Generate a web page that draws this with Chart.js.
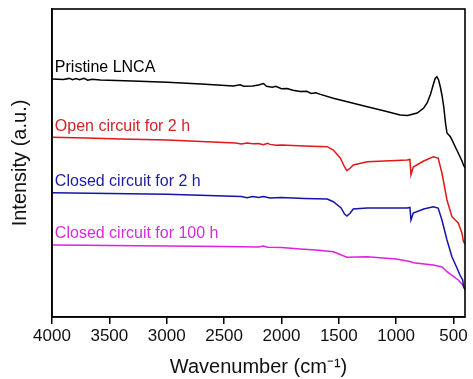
<!DOCTYPE html>
<html>
<head>
<meta charset="utf-8">
<script src="https://cdn.jsdelivr.net/npm/chart.js@4.4.1/dist/chart.umd.min.js"></script>
<style>
html,body{margin:0;padding:0;background:#fff;}
#wrap{width:473px;height:379px;position:relative;}
</style>
</head>
<body>
<div id="wrap"><canvas id="c" width="473" height="379"></canvas></div>
<script>
// Wavenumber tick labels
const xTicks = [4000, 3500, 3000, 2500, 2000, 1500, 1000, 500];

// Series names
const seriesNames = ["Pristine LNCA", "Open circuit for 2 h", "Closed circuit for 2 h", "Closed circuit for 100 h"];

// Pristine LNCA: [wavenumber, intensity (a.u.)]
const pristine = [
  [4000,238],[3900,237.6],[3850,238.6],[3820,237.2],[3790,238.4],[3760,237.2],[3720,238.6],[3690,236.8],[3650,237.8],[3579,237],
  [3300,236],[2995,234.7],[2700,233],[2420,231],[2359,232.2],[2330,230.7],[2250,231],[2200,232],[2157,233.5],
  [2130,230.8],[2080,229.8],[2050,230.8],[2000,228.3],[1950,228.5],[1900,226.7],[1836,225.5],[1780,225.8],
  [1740,223.6],[1700,224.2],[1660,222.6],[1548,218.7],[1400,214.5],[1252,210.3],[1100,206],[965,202],[900,201.5],
  [817,204],[760,209],[730,214],[700,223],[675,233],[660,238.5],[645,240.3],[630,237],[615,230],[601,222],[585,210],[570,194],[557,184],
  [527,180.3],[480,169],[459,164],[430,157],[413,152],[400,149]
];

// Open circuit for 2 h
const openCircuit2h = [
  [4000,179.7],[3900,179.5],[3700,179],[3400,178],[2995,177],[2700,175.5],[2500,174.5],[2400,174],[2350,173],
  [2300,174],[2250,173.2],[2200,173.5],[2157,172.3],[2120,173.8],[2100,172.6],[2050,171.8],[2000,172],
  [1800,171],[1601,170.3],[1548,167],[1487,159],[1450,150],[1429,146.3],[1400,149],[1374,152],[1252,155.3],[1000,156.5],
  [904,157],[880,157.5],[871,142],[851,150],[760,156],[677,160.3],[634,159],[601,144],[557,117],
  [514,100.3],[459,94],[427,84],[413,75.3],[400,73]
];

// Closed circuit for 2 h
const closed2h = [
  [4000,124.3],[3500,123.5],[2995,122.7],[2500,121],[2350,120.5],[2300,119.2],[2250,120.4],[2200,119.4],
  [2157,120.4],[2100,119.1],[2000,119.5],[1800,118.5],[1601,118],[1548,115.3],[1480,109],[1450,103],[1429,101],
  [1400,104],[1374,108],[1252,109],[904,109],[880,109.5],[871,97],[851,104],[760,108],[677,110.3],[634,109],
  [601,97],[557,77],[514,60.3],[470,49],[444,42],[420,37],[413,30.3],[400,27]
];

// Closed circuit for 100 h
const closed100h = [
  [4000,72],[3700,71.8],[3500,71.5],[2995,71],[2500,70.5],[2200,70],[2157,71],[2120,69.8],[2000,69.5],
  [1836,68],[1700,67],[1548,65.3],[1429,59.7],[1252,60.3],[1000,58],[871,55.3],[850,54.3],[677,52],
  [600,50],[557,45.3],[459,37],[420,32],[400,29]
];

const colors = ["#000000", "#e01818", "#1414a8", "#e020e0"];
const textColors = ["#000000", "#d42424", "#1c1ca4", "#d42cd8"];
const seriesData = [pristine, openCircuit2h, closed2h, closed100h];
// label anchor (wavenumber, intensity) for in-plot text
const labelPos = [[3975,245.5],[3975,186.5],[3975,131],[3975,79]];

const toPts = arr => arr.map(p => ({x: p[0], y: p[1]}));

const frame = {
  id: 'frame',
  afterDraw(chart) {
    const {ctx, chartArea: a} = chart;
    ctx.save();
    ctx.strokeStyle = '#000';
    ctx.lineWidth = 1.6;
    ctx.strokeRect(a.left, a.top, a.right - a.left, a.bottom - a.top);
    ctx.restore();
  }
};

const labels = {
  id: 'labels',
  afterDatasetsDraw(chart) {
    const {ctx} = chart;
    const xs = chart.scales.x, ys = chart.scales.y;
    ctx.save();
    ctx.font = '16px "Liberation Sans", Arial, sans-serif';
    ctx.textBaseline = 'alphabetic';
    ctx.textAlign = 'left';
    seriesNames.forEach((n, i) => {
      ctx.fillStyle = textColors[i];
      ctx.fillText(n, xs.getPixelForValue(labelPos[i][0]), ys.getPixelForValue(labelPos[i][1]));
    });
    ctx.restore();
  }
};

new Chart(document.getElementById('c'), {
  type: 'line',
  data: {
    datasets: seriesData.map((d, i) => ({
      label: seriesNames[i],
      data: toPts(d),
      borderColor: colors[i],
      borderWidth: 1.5,
      pointRadius: 0,
      tension: 0,
      fill: false
    }))
  },
  options: {
    responsive: false,
    animation: false,
    devicePixelRatio: 1,
    layout: {padding: {left: 0, right: 8, top: 9, bottom: 0}},
    plugins: {legend: {display: false}, tooltip: {enabled: false}},
    scales: {
      x: {
        type: 'linear',
        reverse: true,
        min: 400,
        max: 4000,
        afterBuildTicks: s => { s.ticks = xTicks.map(v => ({value: v})); },
        afterFit: s => { s.height = 62; },
        grid: {display: true, drawOnChartArea: false, drawTicks: true, tickLength: 7, color: '#000', lineWidth: 1.5},
        border: {display: true, color: '#000', width: 1.6},
        ticks: {color: '#111', font: {size: 17, family: '"Liberation Sans", Arial, sans-serif'}, padding: 2, maxRotation: 0, autoSkip: false,
                callback: v => String(v)},
        title: {display: true, text: 'Wavenumber (cm\u207B\u00B9)', color: '#111', font: {size: 20, family: '"Liberation Sans", Arial, sans-serif'}, padding: {top: 0, bottom: 0}}
      },
      y: {
        type: 'linear',
        min: 0,
        max: 308,
        afterFit: s => { s.width = 52; },
        grid: {display: false},
        border: {display: true, color: '#000', width: 1.6},
        ticks: {display: false},
        title: {display: true, text: 'Intensity (a.u.)', color: '#111', font: {size: 20, family: '"Liberation Sans", Arial, sans-serif'}, padding: {top: 8, bottom: 0}}
      }
    }
  },
  plugins: [frame, labels]
});
</script>
</body>
</html>
